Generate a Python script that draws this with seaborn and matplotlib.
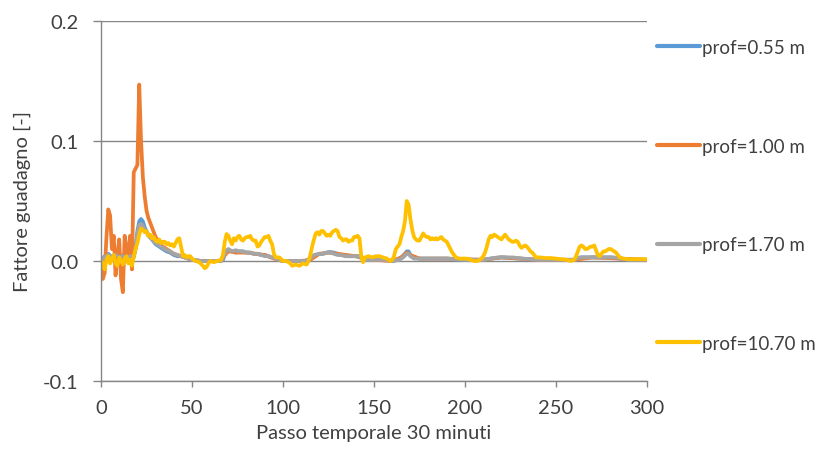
import matplotlib
matplotlib.use("Agg")
import matplotlib.pyplot as plt
import pandas as pd
import seaborn as sns

# Serie: fattore di guadagno per profondità
labels = ["prof=0.55 m", "prof=1.00 m", "prof=1.70 m", "prof=10.70 m"]
colors = ["#5B9BD5", "#ED7D31", "#A5A5A5", "#FFC000"]

passo_055 = [0, 2, 4, 6, 8, 10, 12, 14, 16, 18, 19, 20, 21, 22, 23, 24, 25, 26, 27, 28,
             29, 30, 32, 34, 36, 38, 40, 42, 44, 46, 48, 50, 55, 60, 65, 67, 68, 69, 70, 72,
             74, 76, 78, 80, 82, 84, 86, 88, 90, 92, 94, 96, 98, 100, 105, 110, 114, 116, 118, 120,
             122, 124, 126, 128, 130, 132, 134, 136, 138, 140, 142, 144, 146, 150, 155, 160, 163, 165, 167, 168,
             169, 170, 172, 175, 180, 190, 200, 210, 214, 220, 230, 240, 250, 260, 264, 270, 280, 285, 290, 300]
fattore_055 = [0.0, 0.004, 0.006, 0.003, 0.006, 0.002, 0.005, 0.003, 0.005, 0.004, 0.012, 0.025, 0.033, 0.035, 0.033, 0.028, 0.025, 0.022, 0.020, 0.018,
               0.016, 0.014, 0.012, 0.010, 0.008, 0.007, 0.005, 0.004, 0.004, 0.003, 0.002, 0.001, 0.0, 0.0, 0.0, 0.001, 0.005, 0.008, 0.009, 0.008,
               0.007, 0.008, 0.008, 0.007, 0.007, 0.006, 0.006, 0.005, 0.005, 0.004, 0.003, 0.002, 0.001, 0.0, 0.0, 0.0, 0.0, 0.003, 0.005, 0.006,
               0.006, 0.007, 0.0075, 0.007, 0.006, 0.005, 0.005, 0.004, 0.004, 0.004, 0.004, 0.002, 0.001, 0.001, 0.001, 0.0, 0.001, 0.003, 0.006, 0.008,
               0.008, 0.005, 0.003, 0.002, 0.002, 0.002, 0.001, 0.001, 0.002, 0.003, 0.002, 0.001, 0.001, 0.001, 0.003, 0.003, 0.003, 0.002, 0.001, 0.001]

passo_100 = [0, 1, 2, 3, 4, 5, 6, 7, 8, 9, 10, 11, 12, 13, 14, 15, 16, 17, 18, 19,
             20, 21, 22, 23, 24, 25, 26, 27, 28, 29, 30, 32, 34, 36, 38, 40, 42, 44, 46, 48,
             50, 55, 60, 66, 68, 70, 75, 80, 85, 90, 95, 100, 110, 115, 120, 125, 130, 135, 140, 145,
             150, 160, 165, 168, 170, 175, 190, 210, 220, 240, 260, 270, 285, 300]
fattore_100 = [0.0, -0.015, -0.010, 0.020, 0.043, 0.038, 0.010, 0.021, -0.012, 0.005, 0.018, -0.015, -0.026, 0.021, 0.010, 0.004, 0.021, -0.007, 0.074, 0.077,
               0.080, 0.147, 0.100, 0.070, 0.054, 0.042, 0.036, 0.032, 0.028, 0.024, 0.020, 0.015, 0.012, 0.010, 0.008, 0.006, 0.005, 0.004, 0.003, 0.002,
               0.001, 0.0, 0.0, 0.0, 0.005, 0.008, 0.007, 0.007, 0.006, 0.005, 0.002, 0.0, 0.0, 0.001, 0.006, 0.007, 0.006, 0.005, 0.004, 0.002,
               0.001, 0.0, 0.003, 0.007, 0.005, 0.002, 0.002, 0.001, 0.003, 0.001, 0.001, 0.003, 0.002, 0.001]

passo_170 = [0, 2, 4, 6, 8, 10, 12, 14, 16, 18, 19, 20, 21, 22, 23, 24, 25, 26, 28, 30,
             32, 34, 36, 38, 40, 42, 44, 46, 48, 50, 55, 60, 66, 68, 69, 70, 72, 74, 76, 78,
             80, 82, 84, 86, 88, 90, 92, 94, 96, 98, 100, 106, 112, 115, 117, 120, 122, 124, 126, 128,
             130, 132, 134, 136, 138, 140, 142, 144, 146, 150, 156, 160, 164, 166, 168, 169, 170, 172, 176, 182,
             190, 200, 210, 214, 218, 226, 232, 240, 250, 260, 263, 268, 276, 282, 286, 290, 300]
fattore_170 = [0.0, 0.003, 0.005, 0.002, 0.005, 0.003, 0.004, 0.002, 0.004, 0.003, 0.010, 0.022, 0.030, 0.031, 0.029, 0.026, 0.024, 0.021, 0.018, 0.015,
               0.013, 0.011, 0.009, 0.008, 0.006, 0.005, 0.004, 0.003, 0.002, 0.001, 0.0, 0.0, 0.0, 0.006, 0.009, 0.010, 0.008, 0.009, 0.008, 0.008,
               0.007, 0.007, 0.006, 0.006, 0.005, 0.004, 0.004, 0.003, 0.002, 0.001, 0.0, 0.0, 0.0, 0.002, 0.005, 0.006, 0.006, 0.007, 0.007, 0.006,
               0.005, 0.005, 0.004, 0.004, 0.004, 0.004, 0.003, 0.002, 0.001, 0.001, 0.001, 0.0, 0.001, 0.003, 0.006, 0.006, 0.004, 0.002, 0.002, 0.002,
               0.002, 0.001, 0.001, 0.002, 0.003, 0.003, 0.002, 0.001, 0.001, 0.001, 0.003, 0.003, 0.003, 0.003, 0.002, 0.001, 0.001]

passo_1070 = [0, 1, 2, 3, 4, 5, 6, 7, 8, 9, 10, 11, 12, 13, 14, 15, 16, 17, 18, 19,
              20, 21, 22, 23, 24, 25, 26, 27, 28, 29, 30, 31, 32, 33, 34, 35, 36, 37, 38, 39,
              40, 41, 42, 43, 44, 45, 46, 47, 48, 49, 50, 52, 54, 56, 57, 58, 59, 60, 62, 64,
              66, 67, 68, 69, 70, 71, 72, 73, 74, 75, 76, 77, 78, 79, 80, 81, 82, 83, 84, 85,
              86, 87, 88, 89, 90, 91, 92, 93, 94, 95, 96, 98, 100, 102, 104, 105, 107, 109, 111, 113,
              114, 115, 116, 117, 118, 119, 120, 121, 122, 123, 124, 125, 126, 127, 128, 129, 130, 131, 132, 133,
              134, 135, 136, 137, 138, 139, 140, 141, 142, 143, 144, 145, 147, 149, 151, 153, 155, 157, 159, 160,
              161, 162, 163, 164, 165, 166, 167, 168, 169, 170, 171, 172, 173, 174, 175, 176, 177, 178, 179, 180,
              181, 182, 183, 184, 185, 186, 187, 188, 189, 190, 191, 192, 193, 194, 195, 197, 199, 201, 203, 205,
              207, 209, 210, 211, 212, 213, 214, 215, 216, 217, 218, 219, 220, 221, 222, 223, 224, 225, 226, 227,
              228, 229, 230, 231, 232, 233, 234, 235, 236, 237, 238, 239, 241, 244, 247, 250, 253, 256, 258, 260,
              261, 262, 263, 264, 265, 266, 267, 268, 269, 270, 271, 272, 273, 274, 275, 276, 277, 278, 279, 280,
              281, 282, 283, 284, 285, 287, 290, 295, 300]
fattore_1070 = [0.0, -0.002, -0.007, 0.001, 0.004, -0.002, 0.002, 0.005, -0.002, -0.004, 0.003, 0.0, -0.003, 0.002, 0.004, -0.002, 0.001, -0.004, 0.004, 0.010,
                0.015, 0.022, 0.027, 0.026, 0.024, 0.025, 0.021, 0.022, 0.019, 0.020, 0.017, 0.016, 0.018, 0.015, 0.016, 0.016, 0.014, 0.015, 0.013, 0.014,
                0.012, 0.015, 0.018, 0.019, 0.012, 0.004, 0.005, 0.003, 0.004, 0.004, 0.002, 0.0, -0.001, -0.004, -0.006, -0.005, -0.002, 0.0, -0.001, 0.0,
                0.001, 0.005, 0.016, 0.0225, 0.021, 0.017, 0.014, 0.019, 0.017, 0.020, 0.021, 0.018, 0.017, 0.019, 0.020, 0.020, 0.021, 0.018, 0.017, 0.017,
                0.012, 0.013, 0.016, 0.018, 0.020, 0.020, 0.021, 0.017, 0.014, 0.006, 0.003, 0.003, 0.0, 0.0, -0.002, -0.004, -0.003, -0.004, -0.002, -0.003,
                0.0, 0.005, 0.012, 0.018, 0.023, 0.024, 0.022, 0.025, 0.025, 0.023, 0.021, 0.022, 0.021, 0.024, 0.025, 0.026, 0.025, 0.020, 0.019, 0.017,
                0.018, 0.018, 0.016, 0.017, 0.017, 0.020, 0.020, 0.021, 0.019, 0.004, -0.001, 0.003, 0.004, 0.003, 0.004, 0.004, 0.003, 0.002, 0.0, 0.001,
                0.004, 0.010, 0.012, 0.014, 0.020, 0.025, 0.033, 0.050, 0.047, 0.035, 0.026, 0.020, 0.018, 0.017, 0.017, 0.020, 0.023, 0.021, 0.020, 0.020,
                0.018, 0.019, 0.018, 0.019, 0.018, 0.019, 0.020, 0.018, 0.017, 0.016, 0.013, 0.010, 0.007, 0.005, 0.003, 0.002, 0.002, 0.002, 0.001, 0.0,
                0.0, 0.002, 0.004, 0.007, 0.012, 0.018, 0.021, 0.020, 0.022, 0.021, 0.020, 0.019, 0.018, 0.020, 0.022, 0.020, 0.018, 0.017, 0.016, 0.016,
                0.017, 0.016, 0.013, 0.011, 0.012, 0.013, 0.012, 0.010, 0.008, 0.007, 0.005, 0.003, 0.003, 0.0025, 0.0025, 0.002, 0.0015, 0.001, 0.0, 0.001,
                0.004, 0.008, 0.012, 0.013, 0.012, 0.010, 0.010, 0.011, 0.012, 0.012, 0.013, 0.009, 0.005, 0.004, 0.006, 0.008, 0.008, 0.009, 0.010, 0.010,
                0.009, 0.008, 0.007, 0.005, 0.003, 0.002, 0.0015, 0.0015, 0.0015]

y_ticks = [-0.1, 0.0, 0.1, 0.2]
x_ticks = [0, 50, 100, 150, 200, 250, 300]

frames = []
for lab, xs, ys in zip(labels,
                       [passo_055, passo_100, passo_170, passo_1070],
                       [fattore_055, fattore_100, fattore_170, fattore_1070]):
    frames.append(pd.DataFrame({"passo": xs, "fattore": ys, "prof": lab}))
df = pd.concat(frames, ignore_index=True)

sns.set_theme(style="white")
plt.rcParams["font.family"] = ["Lato", "DejaVu Sans"]

axis_gray = "#868686"
text_col = "#404040"
fs = 14.5
leg_fs = 13.5

fig = plt.figure(figsize=(8.23, 4.52), dpi=100)
ax = fig.add_axes([101 / 823, 1 - 382 / 452, 546 / 823, 360 / 452])

sns.lineplot(data=df, x="passo", y="fattore", hue="prof", hue_order=labels,
             palette=colors, estimator=None, sort=False, linewidth=2.7, ax=ax)

ax.set_xlim(0, 300)
ax.set_ylim(-0.1, 0.2)
ax.set_xticks(x_ticks)
ax.set_yticks(y_ticks)
ax.set_yticklabels([f"{v:.1f}" for v in y_ticks])
ax.yaxis.grid(True, color=axis_gray, linewidth=1.0)
ax.xaxis.grid(False)
ax.set_axisbelow(True)

for side in ["top", "right"]:
    ax.spines[side].set_visible(False)
for side in ["left", "bottom"]:
    ax.spines[side].set_color(axis_gray)
    ax.spines[side].set_linewidth(1.0)

ax.tick_params(axis="y", direction="out", length=6, width=1, color=axis_gray,
               pad=10, labelsize=fs, labelcolor=text_col, left=True)
ax.tick_params(axis="x", direction="out", length=4, width=1, color=axis_gray,
               pad=9, labelsize=fs, labelcolor=text_col, bottom=True)

ax.set_xlabel("Passo temporale 30 minuti", fontsize=fs, color=text_col, labelpad=6)
ax.set_ylabel("Fattore guadagno [-]", fontsize=fs, color=text_col, labelpad=9)

sns.move_legend(ax, loc="upper left", bbox_to_anchor=(657 / 823, 1 - 40 / 452),
                bbox_transform=fig.transFigure, frameon=False, title=None,
                fontsize=leg_fs, labelspacing=4.35, handlelength=2.3, handletextpad=0.1,
                borderaxespad=0, borderpad=0)
leg = ax.get_legend()
for t in leg.get_texts():
    t.set_color(text_col)
for h in leg.get_lines():
    h.set_linewidth(3)

fig.savefig("out.png", dpi=100)
